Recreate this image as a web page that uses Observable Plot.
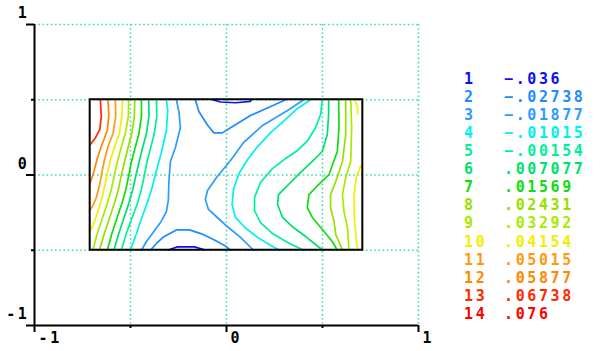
<!DOCTYPE html>
<html><head><meta charset="utf-8">
<script src="https://cdn.jsdelivr.net/npm/d3@7"></script>
<script src="https://cdn.jsdelivr.net/npm/@observablehq/plot@0.6"></script>
<style>
html,body{margin:0;padding:0;background:#fff;}
#wrap{position:relative;width:600px;height:351px;overflow:hidden;}
#wrap svg text{letter-spacing:2.6px;}
#legend{position:absolute;left:464px;top:69.8px;font:bold 15px "DejaVu Sans Mono",monospace;line-height:18.08px;letter-spacing:2.6px;white-space:pre;}
#legend .row{display:flex;}
#legend .n{width:40px;}
</style></head><body><div id="wrap"></div>
<script>
// Contour levels (legend)
const levels = [1,2,3,4,5,6,7,8,9,10,11,12,13,14];
const levelValues = ["-.036","-.02738","-.01877","-.01015","-.00154",".007077",".01569",".02431",".03292",".04154",".05015",".05877",".06738",".076"];
const levelColors = ["#1010ee","#1e8cff","#2d9cff","#00f0f0","#00f09a","#00e070","#10dd10","#96e000","#aaea00","#f0f000","#ff9a10","#ff8800","#ff2a00","#ff0000"];

// Axes
const xTicks = [-1, 0, 1];
const yTicks = [-1, 0, 1];
const minorTicks = [-0.5, 0.5];
const gridValues = [-0.5, 0, 0.5, 1];
const tickLabels = ["-1", "0", "1"];

// Plate outline
const plateX = [-0.71, 0.71];
const plateY = [-0.5, 0.5];

// Contour lines, [x, y]
const line1Top = [[-0.073,0.5],[-0.031,0.485],[0.047,0.480],[0.125,0.489],[0.128,0.497]];
const line1Bottom = [[-0.300,-0.497],[-0.258,-0.478],[-0.167,-0.478],[-0.115,-0.497]];
const line2Top = [[-0.162,0.5],[-0.144,0.422],[-0.101,0.336],[-0.066,0.280],[-0.022,0.280],[0.021,0.314],[0.125,0.395],[0.219,0.449],[0.308,0.5]];
const line2Bottom = [[-0.396,-0.5],[-0.365,-0.455],[-0.329,-0.412],[-0.261,-0.365],[-0.193,-0.365],[-0.130,-0.391],[-0.068,-0.429],[-0.005,-0.472],[0.021,-0.5]];
const line3Left = [[-0.261,0.5],[-0.248,0.422],[-0.240,0.316],[-0.266,0.183],[-0.292,0.090],[-0.300,-0.043],[-0.303,-0.169],[-0.313,-0.243],[-0.344,-0.316],[-0.386,-0.389],[-0.417,-0.442],[-0.443,-0.5]];
const line3Right = [[0.402,0.5],[0.318,0.429],[0.188,0.329],[0.089,0.216],[0.021,0.096],[-0.052,-0.017],[-0.099,-0.103],[-0.110,-0.163],[-0.094,-0.229],[-0.042,-0.289],[0.010,-0.349],[0.073,-0.415],[0.141,-0.5]];
const line4Left = [[-0.313,0.5],[-0.306,0.429],[-0.313,0.296],[-0.339,0.149],[-0.365,0.030],[-0.386,-0.076],[-0.412,-0.183],[-0.443,-0.289],[-0.469,-0.389],[-0.501,-0.5]];
const line4Right = [[0.438,0.5],[0.370,0.442],[0.308,0.369],[0.230,0.282],[0.162,0.189],[0.110,0.103],[0.068,0.017],[0.037,-0.090],[0.029,-0.196],[0.047,-0.282],[0.099,-0.352],[0.167,-0.419],[0.240,-0.475],[0.276,-0.5]];
const line5Left = [[-0.365,0.5],[-0.363,0.389],[-0.376,0.276],[-0.396,0.176],[-0.415,0.083],[-0.428,-0.003],[-0.443,-0.096],[-0.464,-0.189],[-0.493,-0.289],[-0.522,-0.389],[-0.548,-0.5]];
const line5Right = [[0.499,0.5],[0.490,0.402],[0.464,0.316],[0.423,0.229],[0.370,0.163],[0.308,0.110],[0.235,0.037],[0.177,-0.050],[0.146,-0.150],[0.146,-0.236],[0.177,-0.316],[0.240,-0.389],[0.318,-0.449],[0.402,-0.5]];
const line6Left = [[-0.405,0.5],[-0.404,0.389],[-0.417,0.276],[-0.438,0.176],[-0.456,0.083],[-0.472,-0.003],[-0.488,-0.096],[-0.509,-0.189],[-0.535,-0.289],[-0.561,-0.389],[-0.587,-0.5]];
const line6Right = [[0.532,0.5],[0.532,0.402],[0.525,0.269],[0.499,0.156],[0.447,0.090],[0.386,0.017],[0.323,-0.063],[0.271,-0.130],[0.266,-0.196],[0.292,-0.282],[0.349,-0.349],[0.412,-0.409],[0.464,-0.462],[0.501,-0.5]];
const line7Left = [[-0.443,0.5],[-0.443,0.389],[-0.456,0.276],[-0.477,0.176],[-0.496,0.083],[-0.509,-0.003],[-0.524,-0.096],[-0.545,-0.189],[-0.571,-0.289],[-0.597,-0.389],[-0.621,-0.5]];
const line7Right = [[0.584,0.5],[0.586,0.316],[0.577,0.156],[0.534,0.003],[0.481,-0.063],[0.429,-0.130],[0.421,-0.216],[0.447,-0.282],[0.508,-0.375],[0.551,-0.442],[0.577,-0.5]];
const line8Left = [[-0.478,0.5],[-0.480,0.389],[-0.493,0.276],[-0.514,0.176],[-0.532,0.083],[-0.548,-0.003],[-0.563,-0.096],[-0.584,-0.189],[-0.610,-0.289],[-0.636,-0.389],[-0.662,-0.5]];
const line8Right = [[0.621,0.5],[0.621,0.269],[0.604,0.090],[0.569,-0.043],[0.542,-0.130],[0.542,-0.216],[0.560,-0.309],[0.569,-0.395],[0.604,-0.5]];
const line9Left = [[-0.510,0.5],[-0.511,0.389],[-0.527,0.276],[-0.550,0.176],[-0.569,0.083],[-0.584,-0.003],[-0.600,-0.096],[-0.621,-0.189],[-0.647,-0.289],[-0.673,-0.389],[-0.696,-0.5]];
const line9Right = [[0.647,0.5],[0.652,0.316],[0.647,0.090],[0.621,-0.017],[0.604,-0.130],[0.612,-0.243],[0.630,-0.349],[0.638,-0.5]];
const line10Left = [[-0.542,0.5],[-0.545,0.389],[-0.558,0.276],[-0.584,0.183],[-0.605,0.096],[-0.621,0.010],[-0.636,-0.083],[-0.652,-0.169],[-0.673,-0.256],[-0.694,-0.329],[-0.709,-0.369]];
const line10TopRight = [[0.668,0.5],[0.683,0.449],[0.683,0.409]];
const line10Right = [[0.699,0.063],[0.675,-0.023],[0.665,-0.136],[0.665,-0.269],[0.673,-0.395],[0.683,-0.5]];
const line11 = [[-0.579,0.5],[-0.577,0.389],[-0.591,0.276],[-0.617,0.189],[-0.635,0.103],[-0.649,0.017],[-0.662,-0.070],[-0.678,-0.150],[-0.696,-0.203],[-0.709,-0.229]];
const line12 = [[-0.617,0.5],[-0.613,0.395],[-0.621,0.296],[-0.652,0.189],[-0.673,0.110],[-0.689,0.030],[-0.702,-0.023],[-0.709,-0.050]];
const line13 = [[-0.657,0.5],[-0.652,0.389],[-0.660,0.302],[-0.683,0.246],[-0.709,0.203]];

const pieces = [
  [1, line1Top], [1, line1Bottom], [2, line2Top], [2, line2Bottom],
  [3, line3Left], [3, line3Right], [4, line4Left], [4, line4Right],
  [5, line5Left], [5, line5Right], [6, line6Left], [6, line6Right],
  [7, line7Left], [7, line7Right], [8, line8Left], [8, line8Right],
  [9, line9Left], [9, line9Right], [10, line10Left], [10, line10TopRight], [10, line10Right],
  [11, line11], [12, line12], [13, line13]
];
const contourRows = pieces.flatMap(([level, pts], id) => pts.map(([x, y]) => ({id, level, x, y})));

const font = "DejaVu Sans Mono";
const gridColor = "#3ee0a4";

const chart = Plot.plot({
  width: 600, height: 351,
  marginLeft: 34, marginRight: 182, marginTop: 24, marginBottom: 26,
  x: {domain: [-1, 1]},
  y: {domain: [-1, 1]},
  color: {type: "ordinal", domain: levels, range: levelColors},
  style: {background: "white"},
  marks: [
    Plot.ruleX(gridValues, {stroke: gridColor, strokeWidth: 1.6, strokeDasharray: "1.6,2.6"}),
    Plot.ruleY(gridValues, {stroke: gridColor, strokeWidth: 1.6, strokeDasharray: "1.6,2.6"}),
    Plot.line(contourRows, {x: "x", y: "y", z: "id", stroke: "level", strokeWidth: 1.7, strokeLinejoin: "round"}),
    Plot.rect([0], {x1: () => plateX[0], x2: () => plateX[1], y1: () => plateY[0], y2: () => plateY[1], fill: "none", stroke: "black", strokeWidth: 2}),
    Plot.ruleX([-1], {stroke: "black", strokeWidth: 2}),
    Plot.ruleY([-1], {stroke: "black", strokeWidth: 2}),
    Plot.axisX(xTicks, {label: null, tickSize: 7, strokeWidth: 2, stroke: "black", tickFormat: () => ""}),
    Plot.axisX(minorTicks, {label: null, tickSize: 3, strokeWidth: 2, stroke: "black", tickFormat: () => ""}),
    Plot.axisY(yTicks, {label: null, tickSize: 8, strokeWidth: 2, stroke: "black", tickFormat: () => ""}),
    Plot.axisY(minorTicks, {label: null, tickSize: 3, strokeWidth: 2, stroke: "black", tickFormat: () => ""}),
    Plot.text(xTicks, {x: d => d, text: (d, i) => tickLabels[i], frameAnchor: "bottom", textAnchor: "start", lineAnchor: "top", dx: 4, dy: 6.5, fontSize: 15, fontFamily: font, fontWeight: "bold", fill: "black"}),
    Plot.text(yTicks, {y: d => d, text: (d, i) => tickLabels[i], frameAnchor: "left", textAnchor: "end", lineAnchor: "bottom", dx: -5, dy: -6.5, fontSize: 15, fontFamily: font, fontWeight: "bold", fill: "black"})
  ]
});

const wrap = document.getElementById("wrap");
wrap.appendChild(chart);

const legend = document.createElement("div");
legend.id = "legend";
levels.forEach((lv, i) => {
  const row = document.createElement("div");
  row.className = "row";
  row.style.color = levelColors[i];
  const n = document.createElement("span");
  n.className = "n";
  n.textContent = String(lv);
  const v = document.createElement("span");
  v.textContent = levelValues[i].replace("-", "\u2212");
  row.appendChild(n);
  row.appendChild(v);
  legend.appendChild(row);
});
wrap.appendChild(legend);
</script>
</body></html>
